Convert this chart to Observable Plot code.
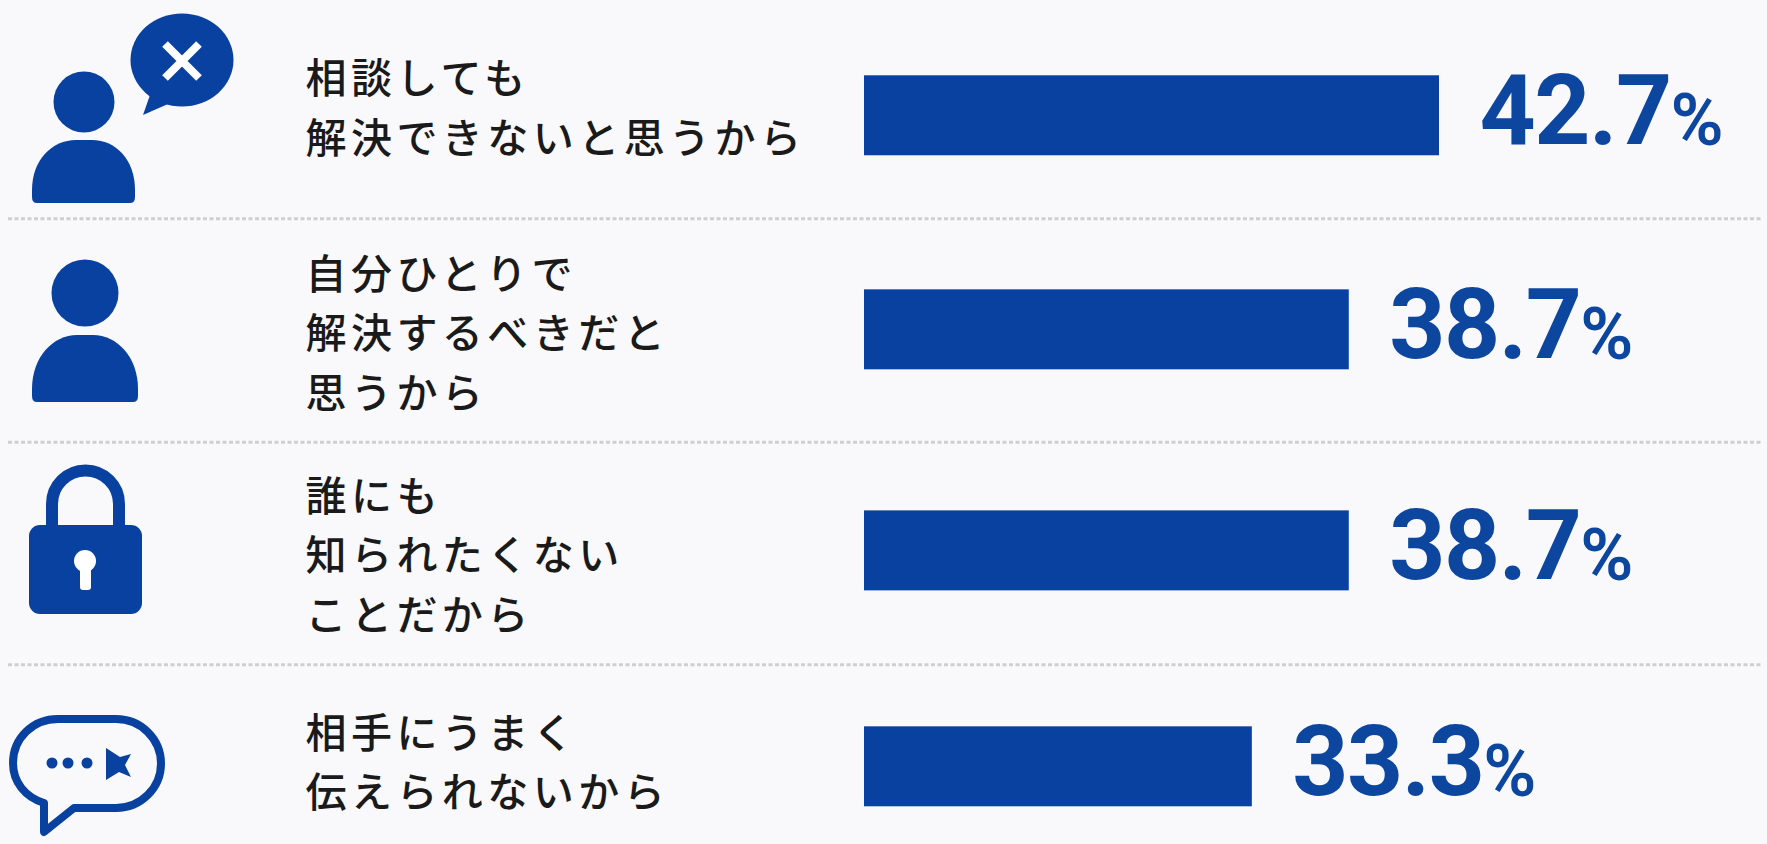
<!DOCTYPE html>
<html lang="ja">
<head>
<meta charset="utf-8">
<script src="https://cdn.jsdelivr.net/npm/d3@7"></script>
<script src="https://cdn.jsdelivr.net/npm/@observablehq/plot@0.6"></script>
<style>
html,body{margin:0;padding:0;background:#f9f9fb;overflow:hidden}
g[font-size="41"]{letter-spacing:4.45px}
g[font-size="98"]{letter-spacing:-1.5px}
</style>
</head>
<body>
<div id="chart"></div>
<script>
// Category labels
const categories = [
  "相談しても\n解決できないと思うから",
  "自分ひとりで\n解決するべきだと\n思うから",
  "誰にも\n知られたくない\nことだから",
  "相手にうまく\n伝えられないから"
];
// Bar lengths as drawn in the picture (in units of the top bar's printed value)
const barLengths = [42.7, 36.0, 36.0, 28.8];
// Printed values
const printedValues = ["42.7", "38.7", "38.7", "33.3"];

// Layout tuning, per row
const rowNudge = [1.3, -2, 1.7, 0.3];
const textNudge = [-12, -0.5, 0.5, -8.5];
const ruleOffset = [104.3, 110.5, 115.7];

const BLUE = "#08419f", NUM = "#0d469f";
const rows = categories.map((c, i) => ({c, v: barLengths[i], t: printedValues[i], i}));

function iconMark(index, scales) {
  const g = d3.create("svg:g").attr("fill", BLUE);
  // person with cross bubble
  const i1 = g.append("g");
  i1.append("circle").attr("cx",84).attr("cy",102).attr("r",30.5);
  i1.append("path").attr("d","M37 203Q32 203 32 197V190C32 160 52 140 76 140H92C116 140 135 160 135 190V197Q135 203 130 203Z");
  i1.append("ellipse").attr("cx",182).attr("cy",60).attr("rx",51.5).attr("ry",46.5);
  i1.append("path").attr("d","M150 95L143 115L168 104Z");
  i1.append("path").attr("d","M165 44L199 78M199 44L165 78").attr("stroke","#fff").attr("stroke-width",8).attr("fill","none");
  // person
  const i2 = g.append("g");
  i2.append("circle").attr("cx",85).attr("cy",293).attr("r",33.5);
  i2.append("path").attr("d","M37 402Q32 402 32 396V389C32 357 53 335 77 335H93C117 335 138 357 138 389V396Q138 402 133 402Z");
  // lock
  const i3 = g.append("g");
  i3.append("path").attr("d","M52 530V504A33.5 33.5 0 0 1 119 504V530").attr("fill","none").attr("stroke",BLUE).attr("stroke-width",12);
  i3.append("rect").attr("x",29).attr("y",525).attr("width",113).attr("height",89).attr("rx",11);
  i3.append("circle").attr("cx",85).attr("cy",561).attr("r",11).attr("fill","#fff");
  i3.append("path").attr("d","M80 565H91V587Q91 590 88 590H83Q80 590 80 587Z").attr("fill","#fff");
  // chat outline
  const i4 = g.append("g");
  i4.append("path").attr("d","M58 719H116A45 44.5 0 0 1 116 808H74L44 832V803C25 797 13 782 13 763C13 738 33 719 58 719Z")
    .attr("fill","none").attr("stroke",BLUE).attr("stroke-width",8).attr("stroke-linejoin","round");
  for (const x of [52,68,87]) i4.append("circle").attr("cx",x).attr("cy",763).attr("r",5.5);
  i4.append("path").attr("d","M106 748L120 757L131 754L125 765L131 777L119 772L106 780Z");
  return g.node();
}

const chart = Plot.plot({
  width: 1767,
  height: 844,
  marginTop: 0, marginBottom: 0, marginLeft: 8, marginRight: 5,
  style: {background: "#f9f9fb", overflow: "hidden"},
  x: {axis: null, domain: [0, 42.7], range: [864, 1439]},
  y: {axis: null, domain: categories, range: [74, 806], paddingInner: 0.632, paddingOuter: 0, align: 0.5, round: false},
  marks: [
    rows.slice(0, 3).map((r, i) => Plot.ruleY([r.c], {
      dy: ruleOffset[i], stroke: "#cfcfd2", strokeWidth: 3, strokeDasharray: "4 2.5"
    })),
    rows.map((r, i) => [
      Plot.barX([r], {x: "v", y: "c", fill: BLUE, dy: rowNudge[i]}),
      Plot.text([r], {
        text: "c", y: "c", frameAnchor: "left", dx: 297, dy: rowNudge[i] + textNudge[i],
        textAnchor: "start", fontSize: 41, lineHeight: 1.45,
        fontFamily: "'Noto Sans CJK JP'", fontWeight: 500, fill: "#1a1a1a"
      }),
      Plot.text([r], {
        text: "t", x: "v", y: "c", dx: 40, dy: rowNudge[i] - 3,
        textAnchor: "start", fontSize: 98, fontFamily: "Roboto", fontWeight: 700, fill: NUM
      }),
      Plot.text([r], {
        text: () => "%", x: "v", y: "c", dx: 231, dy: rowNudge[i] + 6,
        textAnchor: "start", fontSize: 72, fontFamily: "Roboto", fontWeight: 600, fill: NUM
      })
    ]),
    iconMark
  ]
});
document.getElementById("chart").append(chart);
</script>
</body>
</html>
